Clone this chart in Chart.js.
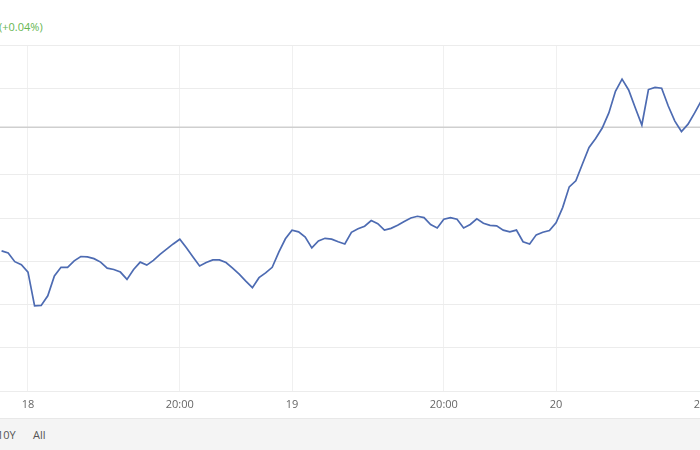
<!DOCTYPE html>
<html>
<head>
<meta charset="utf-8">
<script src="https://cdn.jsdelivr.net/npm/chart.js@4"></script>
<style>
  html, body { margin: 0; padding: 0; width: 700px; height: 450px; overflow: hidden; background: #ffffff; font-family: 'Open Sans', 'Liberation Sans', sans-serif; }
  #wrap { position: relative; width: 700px; height: 450px; overflow: hidden; }
  #chart { position: absolute; left: -40px; top: 0; }
  .change { position: absolute; left: -1px; top: 19px; font-size: 11px; color: #66b652; }
  .rangebar { position: absolute; left: 0; top: 418px; width: 700px; height: 32px; background: #f4f4f4; border-top: 1px solid #e8e8e8; }
  .rangebar span { position: absolute; top: 8px; font-size: 11px; color: #555; }
</style>
</head>
<body>
<div id="wrap">
  <div class="change">(+0.04%)</div>
  <canvas id="chart" width="800" height="420"></canvas>
  <div class="rangebar"><span style="left:-3px">10Y</span><span style="left:33px">All</span></div>
</div>
<script>
// Fiyat serisi (eşit aralıklı, ilk nokta index -4)
const firstIndex = -4;
const prices = [
  3.24, 3.19, 2.99, 2.92, 2.75, 1.97, 1.98, 2.20, 2.66, 2.86,
  2.86, 3.01, 3.11, 3.10, 3.06, 2.98, 2.84, 2.81, 2.75, 2.58,
  2.81, 2.98, 2.91, 3.02, 3.16, 3.28, 3.40, 3.51, 3.31, 3.10,
  2.89, 2.97, 3.03, 3.03, 2.97, 2.84, 2.70, 2.54, 2.39, 2.62,
  2.73, 2.86, 3.21, 3.52, 3.72, 3.68, 3.56, 3.31, 3.47, 3.53,
  3.51, 3.45, 3.40, 3.67, 3.75, 3.81, 3.94, 3.87, 3.72, 3.76,
  3.83, 3.92, 4.00, 4.04, 4.01, 3.85, 3.77, 3.97, 4.01, 3.97,
  3.77, 3.85, 3.98, 3.88, 3.83, 3.82, 3.72, 3.68, 3.72, 3.45,
  3.40, 3.61, 3.67, 3.71, 3.89, 4.24, 4.72, 4.86, 5.25, 5.63,
  5.84, 6.08, 6.43, 6.93, 7.21, 6.96, 6.55, 6.15, 6.97, 7.02,
  7.00, 6.59, 6.24, 6.00, 6.17, 6.43, 6.71
];
const previousClose = 6.10;

// X ekseni etiketleri
const xTickValues = [0, 23, 40, 63, 80, 103];
const xTickLabels = ['18', '20:00', '19', '20:00', '20', '20:00'];

const xMin = -10.3;
const xMax = 110.9;

const points = prices.map((p, i) => ({ x: firstIndex + i, y: p }));

new Chart(document.getElementById('chart'), {
    type: 'line',
    data: {
        datasets: [{
            data: points,
            borderColor: '#4d6bb2',
            borderWidth: 1.7,
            pointRadius: 0,
            tension: 0,
            fill: false
        }, {
            data: [{ x: xMin, y: previousClose }, { x: xMax, y: previousClose }],
            borderColor: '#cfcfcf',
            borderWidth: 1.5,
            pointRadius: 0
        }]
    },
    options: {
        responsive: false,
        animation: false,
        layout: { padding: { top: 45, left: 0, right: 0, bottom: 0 } },
        plugins: {
            legend: { display: false },
            tooltip: { enabled: false }
        },
        scales: {
            x: {
                type: 'linear',
                min: xMin,
                max: xMax,
                afterBuildTicks: (scale) => {
                    scale.ticks = xTickValues.map(v => ({ value: v }));
                },
                afterFit: (scale) => { scale.height = 29; },
                border: { display: false },
                grid: {
                    color: '#f0f0f0',
                    drawTicks: false
                },
                ticks: {
                    padding: 7,
                    maxRotation: 0,
                    autoSkip: false,
                    color: '#666666',
                    font: { size: 11, family: "'Open Sans', 'Liberation Sans', sans-serif" },
                    callback: function (value) {
                        const idx = xTickValues.indexOf(value);
                        return idx >= 0 ? xTickLabels[idx] : '';
                    }
                }
            },
            y: {
                min: 0,
                max: 8,
                afterFit: (scale) => { scale.width = 0; },
                border: { display: false },
                grid: {
                    drawTicks: false,
                    color: (ctx) => ctx.tick && ctx.tick.value === 6 ? 'rgba(0,0,0,0)' : '#ececec'
                },
                ticks: { display: false, stepSize: 1 }
            }
        }
    }
});
</script>
</body>
</html>
